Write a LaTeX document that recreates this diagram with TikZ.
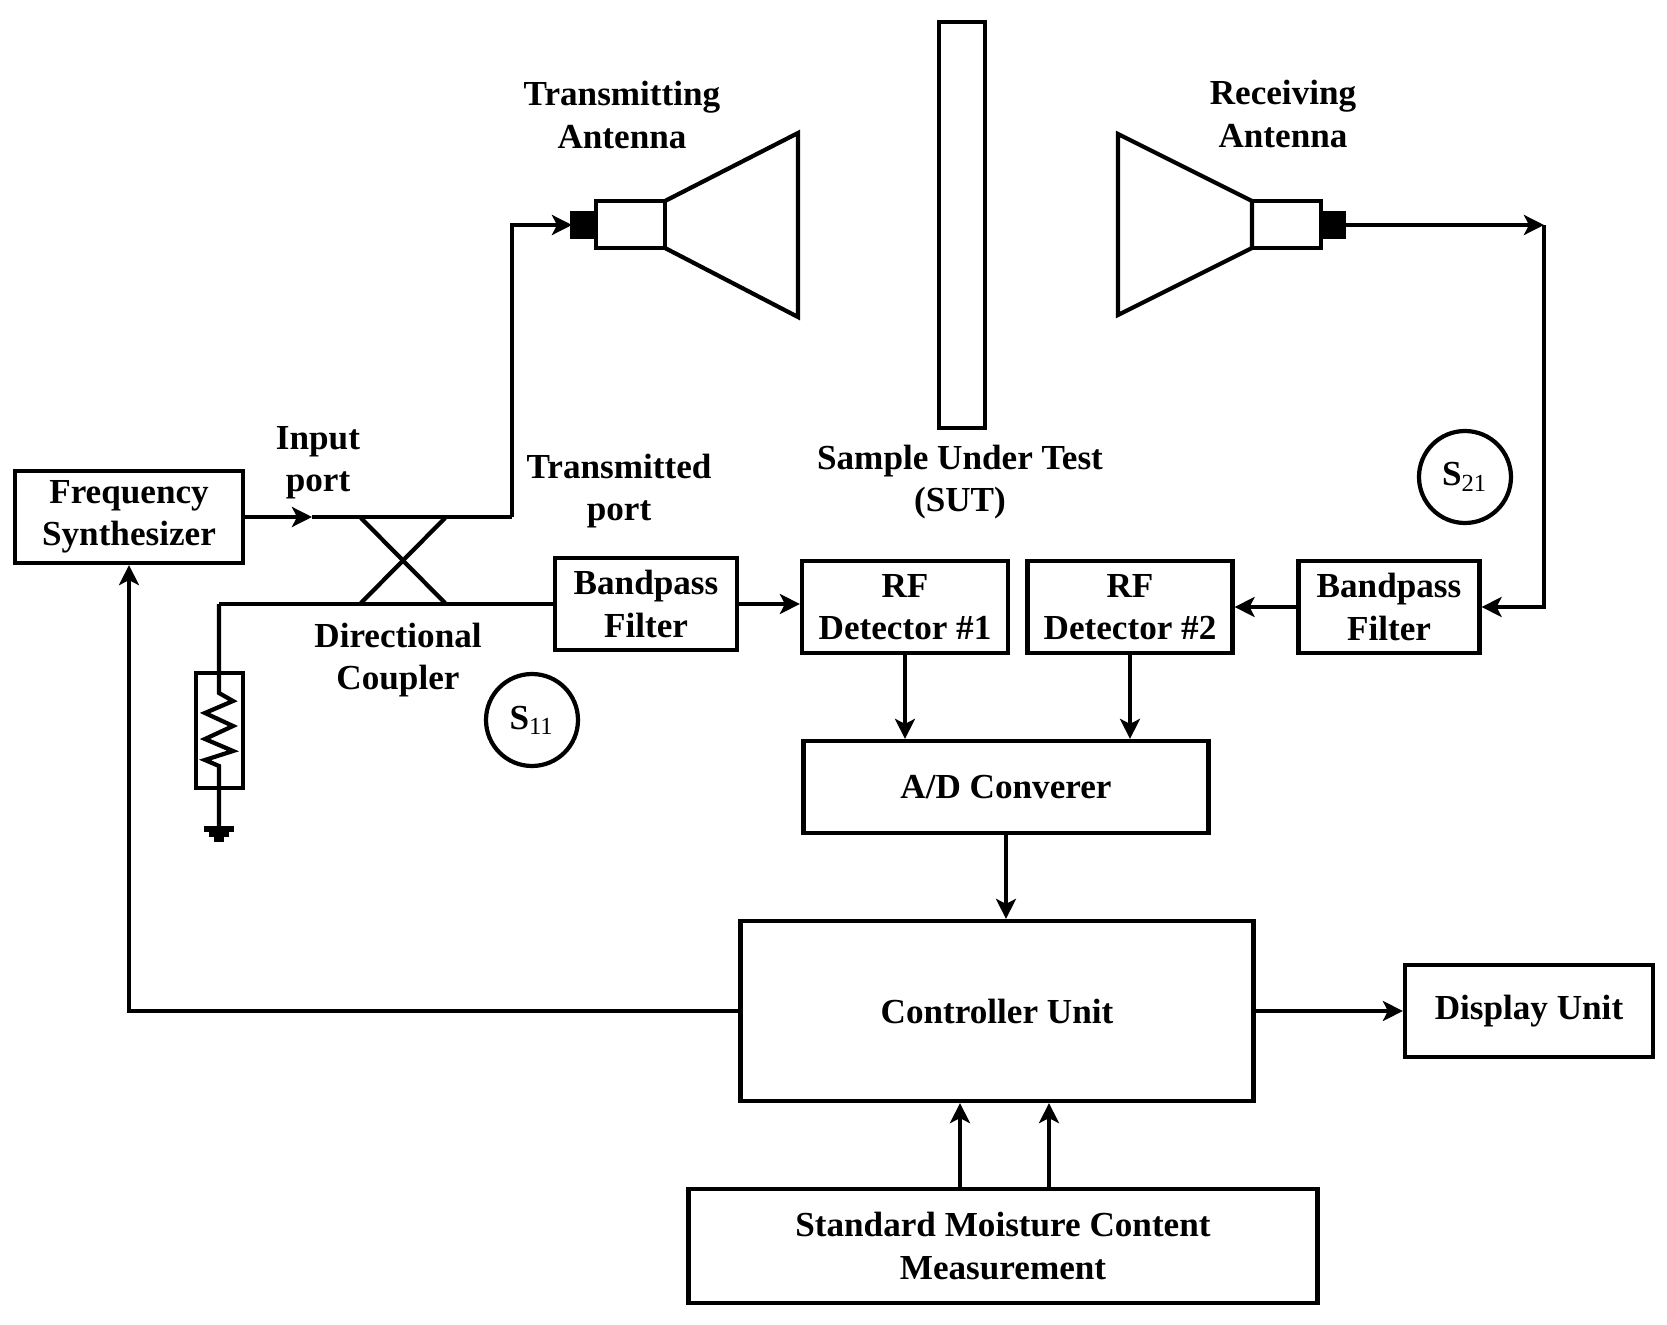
\documentclass[tikz,border=0pt]{standalone}
\usepackage{fontspec}
\setmainfont{Liberation Serif}
\usetikzlibrary{arrows.meta}
\begin{document}
\begin{tikzpicture}[y=-1cm, line width=1.2pt,
    every node/.style={font=\bfseries\fontsize{10}{12}\selectfont, align=center},
    blk/.style={draw, rectangle, inner sep=0pt},
    arr/.style={-{Stealth[length=2mm,width=2mm,inset=0.5mm]}}]
    \useasboundingbox (0,0) rectangle (16.67,13.25);
    % blocks
    \node[blk, minimum width=2.28cm, minimum height=0.92cm] (fs) at (1.29,5.17) {Frequency\\Synthesizer};
    \node[blk, minimum width=1.82cm, minimum height=0.92cm] (bpfa) at (6.46,6.04) {Bandpass\\Filter};
    \node[blk, minimum width=2.06cm, minimum height=0.92cm] (rfa) at (9.05,6.07) {RF\\Detector \#1};
    \node[blk, minimum width=2.05cm, minimum height=0.92cm] (rfb) at (11.30,6.07) {RF\\Detector \#2};
    \node[blk, minimum width=1.81cm, minimum height=0.92cm] (bpfb) at (13.89,6.07) {Bandpass\\Filter};
    \node[blk, minimum width=4.05cm, minimum height=0.92cm] (adc) at (10.06,7.87) {A/D Converer};
    \node[blk, minimum width=5.13cm, minimum height=1.80cm] (cu) at (9.97,10.11) {Controller Unit};
    \node[blk, minimum width=2.48cm, minimum height=0.92cm] (du) at (15.29,10.11) {Display Unit};
    \node[blk, minimum width=6.29cm, minimum height=1.14cm] (smc) at (10.03,12.46) {Standard Moisture Content\\Measurement};
    % labels
    \node (txlab) at (6.22,1.15) {Transmitting\\Antenna};
    \node (rxlab) at (12.83,1.14) {Receiving\\Antenna};
    \node (inlab) at (3.18,4.63) {Input\\port};
    \node (tplab) at (6.19,4.91) {Transmitted\\port};
    \node (sutlab) at (9.60,4.82) {Sample Under Test\\(SUT)};
    \node (dclab) at (3.98,6.60) {Directional\\Coupler};
    \node[draw, circle, minimum size=0.92cm, inner sep=0pt] (sa) at (5.32,7.20) {S\textsubscript{\mdseries 11}};
    \node[draw, circle, minimum size=0.92cm, inner sep=0pt] (sb) at (14.65,4.77) {S\textsubscript{\mdseries 21}};
    % antennas and sample
    \draw[fill=black] (5.72,2.13) rectangle (5.96,2.37);
    \draw (5.96,2.01) rectangle (6.65,2.48);
    \draw (6.65,2.01)--(7.98,1.33)--(7.98,3.17)--(6.65,2.48);
    \draw (11.18,1.34)--(12.52,2.01)--(12.52,2.48)--(11.18,3.15)--cycle;
    \draw (12.52,2.01) rectangle (13.21,2.48);
    \draw[fill=black] (13.21,2.13) rectangle (13.44,2.37);
    \draw (9.39,0.22) rectangle (9.85,4.28);
    \coordinate (txin) at (5.72,2.25);
    \coordinate (rxout) at (13.44,2.25);
    \coordinate (rxturn) at (15.44,2.25);
    % coupler
    \coordinate (inp) at (3.12,5.17);
    \coordinate (tport) at (5.12,5.17);
    \coordinate (cpl) at (2.19,6.04);
    \draw[arr] (fs.east) -- (inp);
    \draw (inp) -- (tport);
    \draw[arr] (tport) |- (txin);
    \draw (3.60,5.17)--(4.46,6.04);
    \draw (4.46,5.17)--(3.60,6.04);
    \draw (cpl) -- (bpfa.west);
    % load and ground
    \draw (1.96,6.73) rectangle (2.43,7.88);
    \draw (cpl) -- (2.19,6.93)--(2.33,7.01)--(2.05,7.13)--(2.33,7.26)--(2.05,7.39)--(2.33,7.51)--(2.05,7.60)--(2.19,7.66)--(2.19,8.28);
    \draw[line width=1.6pt] (2.04,8.29)--(2.34,8.29);
    \draw[line width=1.6pt] (2.09,8.34)--(2.29,8.34);
    \draw[line width=1.6pt] (2.14,8.39)--(2.24,8.39);
    % signal paths
    \draw[arr] (bpfa.east) -- (bpfa.east -| rfa.west);
    \draw[arr] (rxout) -- (rxturn);
    \draw[arr] (rxturn) |- (bpfb.east);
    \draw[arr] (bpfb.west) -- (rfb.east);
    \draw[arr] (rfa.south) -- (rfa.south |- adc.north);
    \draw[arr] (rfb.south) -- (rfb.south |- adc.north);
    \draw[arr] (adc.south) -- (adc.south |- cu.north);
    \draw[arr] (cu.east) -- (du.west);
    \draw[arr] (cu.west) -| (fs.south);
    \draw[arr] ([xshift=-0.43cm]smc.north) -- ([xshift=-0.43cm]smc.north |- cu.south);
    \draw[arr] ([xshift=0.46cm]smc.north) -- ([xshift=0.46cm]smc.north |- cu.south);
\end{tikzpicture}
\end{document}
